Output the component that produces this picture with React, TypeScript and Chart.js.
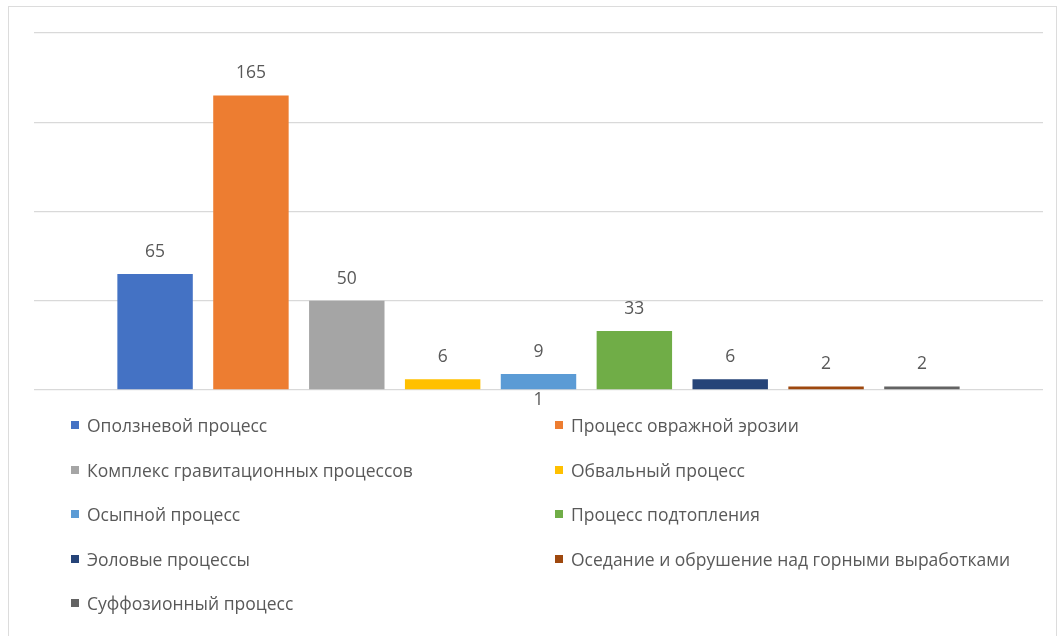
import React, { useEffect, useRef } from "react";
import { Chart, registerables } from "chart.js";

Chart.register(...registerables);

const categories = ["1"];
const seriesNames = [
  "Оползневой процесс",
  "Процесс овражной эрозии",
  "Комплекс гравитационных процессов",
  "Обвальный процесс",
  "Осыпной процесс",
  "Процесс подтопления",
  "Эоловые процессы",
  "Оседание и обрушение над горными выработками",
  "Суффозионный процесс",
];
const seriesValues = [65, 165, 50, 6, 9, 33, 6, 2, 2];
const seriesColors = [
  "#4472C4",
  "#ED7D31",
  "#A5A5A5",
  "#FFC000",
  "#5B9BD5",
  "#70AD47",
  "#264478",
  "#9E480E",
  "#636363",
];
const yMax = 200;
const yStep = 50;

const FONT = "'Open Sans', 'Noto Sans', sans-serif";
const FONT_SIZE = 17.5;
const TEXT_COLOR = "#595959";

const valueLabels = {
  id: "valueLabels",
  afterDatasetsDraw(chart: any) {
    const ctx = chart.ctx;
    ctx.save();
    ctx.font = `${FONT_SIZE}px ${FONT}`;
    ctx.fillStyle = TEXT_COLOR;
    ctx.textAlign = "center";
    ctx.textBaseline = "middle";
    chart.data.datasets.forEach((ds: any, i: number) => {
      const meta = chart.getDatasetMeta(i);
      meta.data.forEach((el: any, j: number) => {
        ctx.fillText(String(ds.data[j]), el.x, el.y - 22);
      });
    });
    ctx.restore();
  },
};

export default function App() {
  const canvasRef = useRef<HTMLCanvasElement>(null);

  useEffect(() => {
    if (!canvasRef.current) return;
    const chart = new Chart(canvasRef.current, {
      type: "bar",
      data: {
        labels: categories,
        datasets: seriesNames.map((name, i) => ({
          label: name,
          data: [seriesValues[i]],
          backgroundColor: seriesColors[i],
          borderWidth: 0,
          categoryPercentage: 0.855,
          barPercentage: 0.787,
        })),
      },
      options: {
        responsive: false,
        animation: false,
        layout: { padding: { left: 34, right: 17, top: 33, bottom: 225 } },
        plugins: {
          legend: { display: false },
          tooltip: { enabled: false },
        },
        scales: {
          x: {
            grid: { display: false, drawTicks: false },
            border: { display: false },
            ticks: {
              padding: 0,
              color: TEXT_COLOR,
              font: { family: FONT, size: FONT_SIZE },
            },
          },
          y: {
            min: 0,
            max: yMax,
            ticks: { display: false, stepSize: yStep },
            grid: { color: "#d9d9d9", lineWidth: 1.3, drawTicks: false },
            border: { display: false },
          },
        },
      },
      plugins: [valueLabels],
    });
    return () => chart.destroy();
  }, []);

  const rows: number[][] = [];
  for (let i = 0; i < seriesNames.length; i += 2) {
    rows.push(i + 1 < seriesNames.length ? [i, i + 1] : [i]);
  }

  return (
    <div
      style={{
        position: "fixed",
        left: 0,
        top: 0,
        width: 1060,
        height: 636,
        background: "#fff",
        overflow: "hidden",
      }}
    >
      <div
        style={{
          position: "absolute",
          left: 8,
          top: 6,
          width: 1049,
          height: 700,
          border: "1.5px solid #dcdcdc",
          boxSizing: "border-box",
        }}
      />
      <canvas
        ref={canvasRef}
        width={1060}
        height={636}
        style={{ position: "absolute", left: 0, top: 0 }}
      />
      {rows.map((row, r) =>
        row.map((idx, c) => (
          <div
            key={idx}
            style={{
              position: "absolute",
              left: c === 0 ? 71 : 555,
              top: 425 + r * 44.5 - 12,
              height: 24,
              display: "flex",
              alignItems: "center",
              fontFamily: FONT,
              fontSize: FONT_SIZE,
              color: TEXT_COLOR,
              whiteSpace: "nowrap",
            }}
          >
            <span
              style={{
                display: "inline-block",
                width: 8,
                height: 8,
                background: seriesColors[idx],
                marginRight: 8,
              }}
            />
            {seriesNames[idx]}
          </div>
        ))
      )}
    </div>
  );
}
